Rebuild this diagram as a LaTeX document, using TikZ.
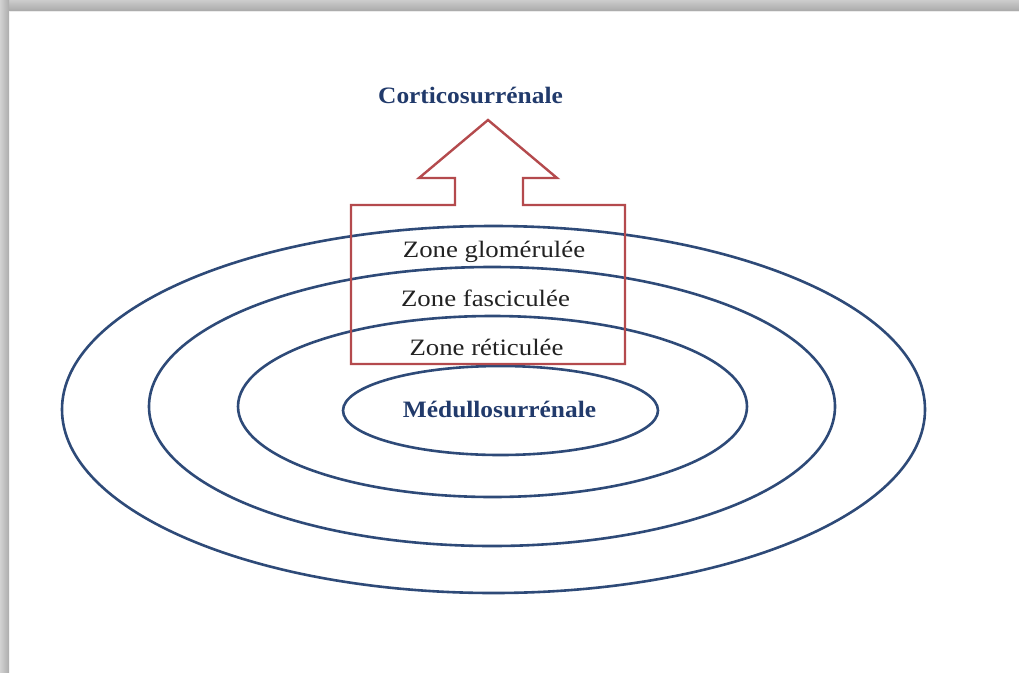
\documentclass[tikz,border=0pt]{standalone}
\usepackage{fontspec}
\setmainfont{Liberation Serif}
\newfontfamily\zonefont[FakeStretch=1.14]{Liberation Serif}
\newfontfamily\titlefont[FakeStretch=1.08]{Liberation Serif}
\begin{document}
\begin{tikzpicture}[x=1pt,y=-1pt,
  ring/.style={draw=ringblue,line width=2.6pt},
  cortex/.style={draw=cortexred,line width=2.4pt,line join=miter},
  zonelabel/.style={anchor=base,inner sep=0pt,text=zonetext,font=\zonefont\fontsize{23.5}{27}\selectfont},
  organlabel/.style={anchor=base,inner sep=0pt,text=titleblue,font=\titlefont\bfseries\fontsize{23.5}{27}\selectfont}]
\definecolor{ringblue}{HTML}{2E4A78}
\definecolor{cortexred}{HTML}{B44A4D}
\definecolor{titleblue}{HTML}{213A6B}
\definecolor{zonetext}{HTML}{222222}
% page and frame shadow
\fill[white] (0,0) rectangle (1019,672);
\useasboundingbox (0,0) rectangle (1019,672);
\shade[top color=gray!40,bottom color=gray!65] (0,0) rectangle (1019,10);
\shade[left color=gray!35,right color=gray!65] (0,0) rectangle (9,672);
\draw[gray!15,line width=1pt] (9,11) -- (1019,11);
% concentric layers of the gland
\draw[ring] (493.5,409.5) ellipse [x radius=431.5pt,y radius=183.5pt];
\draw[ring] (492,406.5) ellipse [x radius=343pt,y radius=139.5pt];
\draw[ring] (492.5,406.5) ellipse [x radius=254.5pt,y radius=90.5pt];
\draw[ring] (500.5,410.5) ellipse [x radius=157.5pt,y radius=44.5pt];
% cortex box with upward arrow
\draw[cortex] (351,364) -- (351,205) -- (455,205) -- (455,178) -- (419,178)
  -- (488,120) -- (557,178) -- (523,178) -- (523,205) -- (625,205)
  -- (625,364) -- cycle;
% labels
\node[organlabel] (cortico) at (470.5,103) {Corticosurrénale};
\node[zonelabel] (glom) at (494,257) {Zone glomérulée};
\node[zonelabel] (fasc) at (485.5,306) {Zone fasciculée};
\node[zonelabel] (retic) at (486.5,355) {Zone réticulée};
\node[organlabel] (medullo) at (499.5,417) {Médullosurrénale};
\end{tikzpicture}
\end{document}
